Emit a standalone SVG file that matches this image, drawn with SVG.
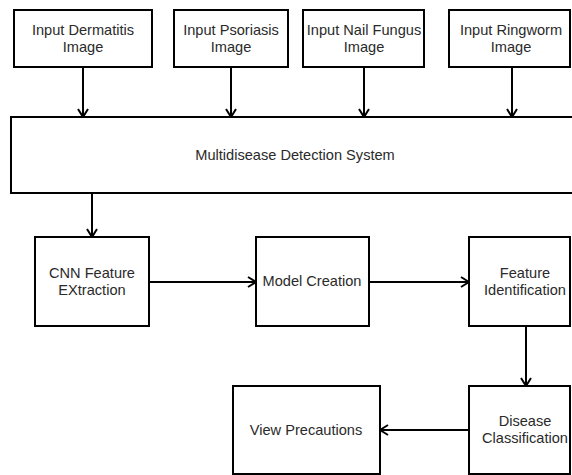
<svg xmlns="http://www.w3.org/2000/svg" width="572" height="475" viewBox="0 0 572 475">
<defs>
<style>
.box{fill:#fff;stroke:#000;stroke-width:2}
.t{font-family:"Liberation Sans",Arial,sans-serif;font-size:14.6px;fill:#2a2a2a;text-anchor:middle}
.c{fill:none;stroke:#000;stroke-width:2}
</style>
<marker id="ah" viewBox="0 0 12 12" refX="11" refY="6" markerWidth="12" markerHeight="12" markerUnits="userSpaceOnUse" orient="auto">
<path d="M3,1 L11,6 L3,11" fill="none" stroke="#000" stroke-width="2"/>
</marker>
</defs>
<rect width="572" height="475" fill="#fff"/>
<g id="connectors">
<line class="c" x1="83" y1="67" x2="83" y2="117" marker-end="url(#ah)"/>
<line class="c" x1="231" y1="67" x2="231" y2="117" marker-end="url(#ah)"/>
<line class="c" x1="364" y1="67" x2="364" y2="117" marker-end="url(#ah)"/>
<line class="c" x1="512" y1="67" x2="512" y2="117" marker-end="url(#ah)"/>
<line class="c" x1="92" y1="193" x2="92" y2="237" marker-end="url(#ah)"/>
<line class="c" x1="149" y1="282" x2="256" y2="282" marker-end="url(#ah)"/>
<line class="c" x1="369" y1="282" x2="469" y2="282" marker-end="url(#ah)"/>
<line class="c" x1="526" y1="326" x2="526" y2="386" marker-end="url(#ah)"/>
<line class="c" x1="469" y1="430" x2="380" y2="430" marker-end="url(#ah)"/>
</g>
<g id="n1"><rect class="box" x="14" y="10" width="138" height="57"/><text class="t" x="83" y="35">Input Dermatitis</text><text class="t" x="83" y="52">Image</text></g>
<g id="n2"><rect class="box" x="174" y="10" width="114" height="57"/><text class="t" x="231" y="35">Input Psoriasis</text><text class="t" x="231" y="52">Image</text></g>
<g id="n3"><rect class="box" x="303" y="10" width="121" height="57"/><text class="t" x="364" y="35">Input Nail Fungus</text><text class="t" x="364" y="52">Image</text></g>
<g id="n4"><rect class="box" x="449" y="10" width="121" height="57"/><text class="t" x="511" y="35">Input Ringworm</text><text class="t" x="511" y="52">Image</text></g>
<g id="n5"><rect class="box" x="11" y="117" width="570" height="76"/><text class="t" x="295" y="160">Multidisease Detection System</text></g>
<g id="n6"><rect class="box" x="35" y="237" width="114" height="89"/><text class="t" x="92" y="278">CNN Feature</text><text class="t" x="92" y="295">EXtraction</text></g>
<g id="n7"><rect class="box" x="256" y="237" width="113" height="89"/><text class="t" x="312" y="286">Model Creation</text></g>
<g id="n8"><rect class="box" x="469" y="237" width="101" height="89"/><text class="t" x="525" y="278">Feature</text><text class="t" x="525" y="295">Identification</text></g>
<g id="n9"><rect class="box" x="469" y="386" width="101" height="88"/><text class="t" x="525" y="426">Disease</text><text class="t" x="525" y="443">Classification</text></g>
<g id="n10"><rect class="box" x="233" y="386" width="147" height="88"/><text class="t" x="306" y="435">View Precautions</text></g>
</svg>
